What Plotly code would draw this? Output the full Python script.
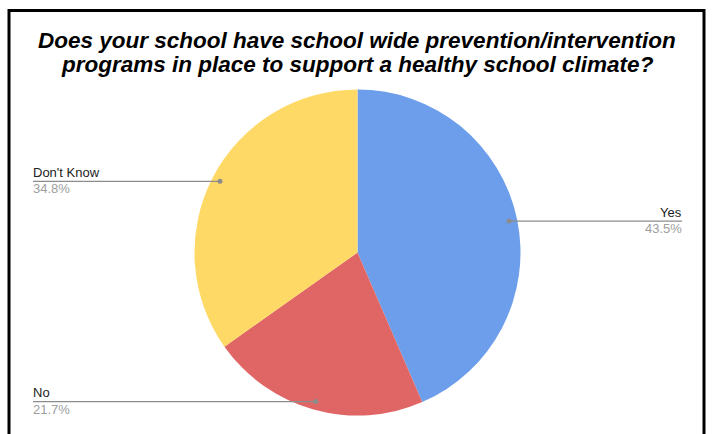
import math
import plotly.graph_objects as go

# Survey answers and their shares (percent)
labels = ["Yes", "No", "Don't Know"]
shares = [43.5, 21.7, 34.8]
colors = ["#6d9eeb", "#e06666", "#ffd966"]
title_lines = [
    "Does your school have school wide prevention/intervention",
    "programs in place to support a healthy school climate?",
]

W, H = 714, 434
CX, CY, R = 357.5, 252.5, 163.0  # pie centre and radius in pixels


def px(x):
    return x / W


def py(y):
    return 1 - y / H


fig = go.Figure(
    go.Pie(
        labels=labels,
        values=shares,
        sort=False,
        direction="clockwise",
        rotation=0,
        marker=dict(colors=colors, line=dict(width=0)),
        textinfo="none",
        hoverinfo="label+percent",
        showlegend=False,
        domain=dict(x=[px(CX - R), px(CX + R)], y=[py(CY + R), py(CY - R)]),
    )
)

shapes = []
annotations = []
total = sum(shares)
cum = 0.0
left_x, right_x = 33, 682
label_font = "Liberation Sans, Arial"
for lab, v in zip(labels, shares):
    mid = (cum + v / 2) / total * 2 * math.pi
    cum += v
    dx = 0.95 * R * math.sin(mid)
    dy = -0.95 * R * math.cos(mid)
    x0, y0 = CX + dx, CY + dy
    right = dx > 0
    xe = right_x if right else left_x
    xt = xe + 2 if right else xe - 2
    shapes.append(dict(type="line", xref="paper", yref="paper",
                       x0=px(x0), y0=py(y0), x1=px(xe), y1=py(y0),
                       line=dict(color="#8c8c8c", width=1.2)))
    shapes.append(dict(type="circle", xref="paper", yref="paper",
                       x0=px(x0 - 2.5), x1=px(x0 + 2.5),
                       y0=py(y0 + 2.5), y1=py(y0 - 2.5),
                       fillcolor="#8c8c8c", line=dict(width=0)))
    anchor = "right" if right else "left"
    annotations.append(dict(x=px(xt), y=py(y0 - 9), xref="paper", yref="paper",
                            text=lab, showarrow=False, xanchor=anchor, yanchor="middle",
                            font=dict(family=label_font, size=13, color="#222222")))
    annotations.append(dict(x=px(xt), y=py(y0 + 7.5), xref="paper", yref="paper",
                            text=f"{v:.1f}%", showarrow=False, xanchor=anchor, yanchor="middle",
                            font=dict(family=label_font, size=13, color="#9e9e9e")))

# Two-line bold italic heading
for line, yc in zip(title_lines, [40, 64.5]):
    annotations.append(dict(x=0.5, y=py(yc), xref="paper", yref="paper",
                            text=f"<b><i>{line}</i></b>", showarrow=False,
                            xanchor="center", yanchor="middle",
                            font=dict(family=label_font, size=22.5, color="black")))

# Outer frame around the chart
shapes.append(dict(type="rect", xref="paper", yref="paper",
                   x0=px(9), x1=px(704), y0=py(445), y1=py(10.5),
                   line=dict(color="black", width=3), fillcolor="rgba(0,0,0,0)"))

fig.update_layout(
    width=W, height=H,
    margin=dict(l=0, r=0, t=0, b=0),
    paper_bgcolor="white",
    shapes=shapes,
    annotations=annotations,
)

fig.write_html("out.html")
